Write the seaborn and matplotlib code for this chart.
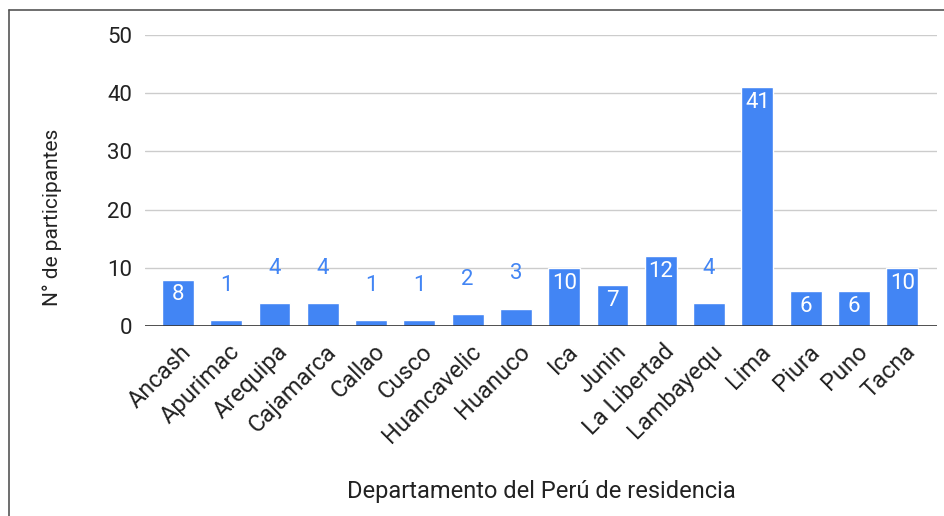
import pandas as pd
import matplotlib.pyplot as plt
import matplotlib.transforms as mtransforms
import seaborn as sns
from matplotlib.lines import Line2D

# DATA

departamentos = [
    "Ancash", "Apurimac", "Arequipa", "Cajamarca", "Callao", "Cusco",
    "Huancavelic", "Huanuco", "Ica", "Junin", "La Libertad", "Lambayequ",
    "Lima", "Piura", "Puno", "Tacna"
]
participantes = [8, 1, 4, 4, 1, 1, 2, 3, 10, 7, 12, 4, 41, 6, 6, 10]
y_ticks = [0, 10, 20, 30, 40, 50]

BAR_COLOR = "#4285F4"
TEXT_COLOR = "#222222"

sns.set_style("white")
plt.rcParams["font.family"] = ["Roboto", "DejaVu Sans"]

df = pd.DataFrame({
    "Departamento": departamentos,
    "Participantes": participantes
})

fig = plt.figure(figsize=(9.44, 5.16), dpi=100)
ax = fig.add_axes([0.1536, 0.368, 0.839, 0.564])

sns.barplot(
    data=df,
    x="Departamento",
    y="Participantes",
    color=BAR_COLOR,
    saturation=1,
    width=0.66,
    ax=ax
)

ax.set_ylim(0, 50)
ax.set_xlim(-0.683, 15.72)
ax.set_yticks(y_ticks)
ax.yaxis.grid(True, color="#cccccc", linewidth=1)
ax.set_axisbelow(True)
ax.axhline(0, color="#333333", linewidth=1.2, zorder=3)
sns.despine(ax=ax, left=True, bottom=True)
ax.tick_params(axis="both", length=0, colors=TEXT_COLOR)
ax.tick_params(axis="y", pad=9, labelsize=16)
ax.tick_params(axis="x", pad=16, labelsize=17)

# rotated labels end a little right of the bar centre
shift = mtransforms.ScaledTranslation(10 / 100, 0, fig.dpi_scale_trans)
for lbl in ax.get_xticklabels():
    lbl.set_rotation(45)
    lbl.set_ha("right")
    lbl.set_va("center")
    lbl.set_rotation_mode("anchor")
    lbl.set_transform(lbl.get_transform() + shift)

# value labels: white inside tall bars, blue above short ones
for i, v in enumerate(participantes):
    if v >= 5:
        ax.annotate(str(v), (i, v), xytext=(0, -11),
                    textcoords="offset points", ha="center", va="center",
                    color="white", fontsize=16)
    else:
        ax.annotate(str(v), (i, v), xytext=(0, 25),
                    textcoords="offset points", ha="center", va="center",
                    color=BAR_COLOR, fontsize=16)

ax.set_xlabel("Departamento del Perú de residencia", fontsize=17,
              color=TEXT_COLOR, labelpad=23)
ax.set_ylabel("N° de participantes", fontsize=15, color=TEXT_COLOR)
ax.yaxis.set_label_coords(-0.105, 0.375)

# screenshot frame on left and top edges
fig.add_artist(Line2D([9 / 944, 9 / 944], [0, 1 - 10 / 516],
                      color="#555555", linewidth=1.2))
fig.add_artist(Line2D([9 / 944, 1], [1 - 10 / 516, 1 - 10 / 516],
                      color="#555555", linewidth=1.2))

fig.savefig("out.png", dpi=100)
